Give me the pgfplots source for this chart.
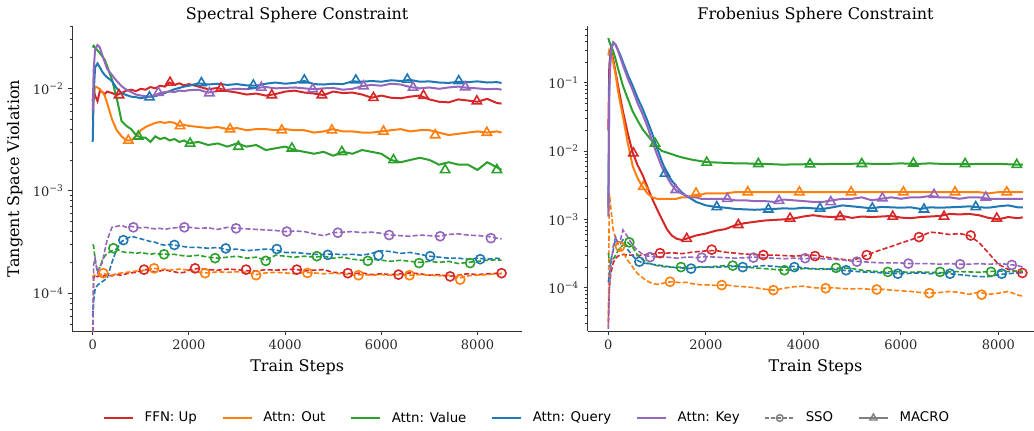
\documentclass[border=0pt]{standalone}
\usepackage{fontspec}
\setmainfont{DejaVu Serif}
\newfontfamily\legfont{DejaVu Sans}
\usepackage{pgfplots}
\usepackage{pgfplotstable}
\pgfplotsset{compat=1.18}

\definecolor{cR}{HTML}{D62728}
\definecolor{cO}{HTML}{FF7F0E}
\definecolor{cG}{HTML}{2CA02C}
\definecolor{cB}{HTML}{1F77B4}
\definecolor{cP}{HTML}{9467BD}
\definecolor{cGray}{HTML}{7F7F7F}
\definecolor{spine}{HTML}{333333}

% x  rM oM gM bM pM (MACRO)  rS oS gS bS pS (SSO)
\pgfplotstableread{
x rM oM gM bM pM rS oS gS bS pS
0 0.0075 0.0050 0.025 0.0030 0.0060 3e-5 1.4e-4 3.0e-4 6e-5 3e-5
20 0.0098 0.0085 0.026 0.0090 0.0150 1.4e-4 1.5e-4 2.9e-4 8.5e-5 1.9e-4
50 0.0085 0.0104 0.025 0.0160 0.0240 1.5e-4 1.5e-4 2.1e-4 1.1e-4 2.2e-4
100 0.0075 0.0102 0.0235 0.0175 0.0265 1.45e-4 1.5e-4 1.6e-4 1.2e-4 1.6e-4
150 0.0095 0.0098 0.022 0.0160 0.0250 1.5e-4 1.55e-4 1.8e-4 1.25e-4 1.8e-4
200 0.0092 0.0092 0.0205 0.0145 0.0210 1.45e-4 1.5e-4 2.1e-4 1.3e-4 2.0e-4
250 0.0088 0.0085 0.019 0.0135 0.0180 1.5e-4 1.55e-4 2.3e-4 1.35e-4 2.6e-4
300 0.0093 0.0072 0.0165 0.0128 0.0155 1.5e-4 1.52e-4 2.45e-4 1.4e-4 3.3e-4
400 0.0090 0.0050 0.0122 0.0118 0.0135 1.48e-4 1.5e-4 2.6e-4 2.0e-4 4.4e-4
500 0.0086 0.0039 0.0080 0.0100 0.0118 1.52e-4 1.55e-4 2.7e-4 2.7e-4 4.5e-4
600 0.0090 0.0034 0.0048 0.0090 0.0105 1.5e-4 1.58e-4 2.55e-4 3.2e-4 4.6e-4
700 0.0095 0.0031 0.0043 0.0086 0.0097 1.55e-4 1.6e-4 2.5e-4 3.4e-4 4.4e-4
800 0.0097 0.0031 0.0040 0.0083 0.0092 1.58e-4 1.62e-4 2.5e-4 3.6e-4 4.5e-4
900 0.0094 0.0034 0.0035 0.0082 0.0087 1.6e-4 1.65e-4 2.45e-4 3.5e-4 4.4e-4
1000 0.0099 0.0039 0.0033 0.0080 0.0085 1.65e-4 1.63e-4 2.5e-4 3.4e-4 4.35e-4
1100 0.0097 0.0042 0.0033 0.0082 0.0084 1.7e-4 1.7e-4 2.45e-4 3.3e-4 4.4e-4
1200 0.0103 0.0044 0.0030 0.0083 0.0083 1.68e-4 1.72e-4 2.4e-4 3.2e-4 4.3e-4
1300 0.0100 0.0046 0.0034 0.0084 0.0086 1.6e-4 1.75e-4 2.45e-4 3.15e-4 4.25e-4
1400 0.0106 0.0047 0.0032 0.0087 0.0090 1.65e-4 1.7e-4 2.4e-4 3.0e-4 4.3e-4
1500 0.0104 0.0046 0.0033 0.0090 0.0092 1.7e-4 1.72e-4 2.42e-4 2.95e-4 4.2e-4
1600 0.0114 0.0047 0.0031 0.0094 0.0093 1.65e-4 1.68e-4 2.38e-4 3.0e-4 4.3e-4
1700 0.0108 0.0046 0.0032 0.0098 0.0092 1.62e-4 1.7e-4 2.4e-4 2.95e-4 4.35e-4
1800 0.0112 0.0043 0.0030 0.0101 0.0095 1.58e-4 1.72e-4 2.35e-4 2.9e-4 4.4e-4
1900 0.0107 0.0044 0.0031 0.0104 0.0094 1.6e-4 1.7e-4 2.32e-4 2.85e-4 4.45e-4
2000 0.0110 0.0043 0.0029 0.0106 0.0096 1.68e-4 1.68e-4 2.3e-4 2.8e-4 4.4e-4
2200 0.0104 0.0042 0.0030 0.0112 0.0097 1.75e-4 1.6e-4 2.35e-4 2.8e-4 4.3e-4
2400 0.0098 0.0041 0.0028 0.0109 0.0091 1.7e-4 1.58e-4 2.25e-4 2.75e-4 4.35e-4
2600 0.0101 0.0042 0.0029 0.0111 0.0094 1.68e-4 1.62e-4 2.2e-4 2.8e-4 4.2e-4
2800 0.0094 0.0040 0.0027 0.0108 0.0097 1.72e-4 1.6e-4 2.25e-4 2.65e-4 4.4e-4
3000 0.0091 0.0041 0.0029 0.0110 0.0099 1.7e-4 1.62e-4 2.3e-4 2.7e-4 4.3e-4
3200 0.0087 0.0039 0.0027 0.0107 0.0098 1.66e-4 1.6e-4 2.2e-4 2.6e-4 4.25e-4
3400 0.0089 0.0040 0.0028 0.0106 0.0101 1.65e-4 1.52e-4 2.25e-4 2.65e-4 4.2e-4
3600 0.0085 0.0040 0.0025 0.0111 0.0103 1.7e-4 1.58e-4 2.1e-4 2.7e-4 4.15e-4
3800 0.0088 0.0039 0.0026 0.0114 0.0100 1.68e-4 1.6e-4 2.35e-4 2.65e-4 4.1e-4
4000 0.0093 0.0040 0.0027 0.0111 0.0101 1.7e-4 1.58e-4 2.3e-4 2.5e-4 4.0e-4
4200 0.0095 0.0039 0.0025 0.0113 0.0102 1.72e-4 1.55e-4 2.25e-4 2.5e-4 4.05e-4
4400 0.0091 0.0039 0.0024 0.0118 0.0100 1.65e-4 1.6e-4 2.3e-4 2.45e-4 4.0e-4
4600 0.0089 0.0037 0.0023 0.0110 0.0098 1.68e-4 1.58e-4 2.25e-4 2.4e-4 3.8e-4
4800 0.0086 0.0038 0.0024 0.0109 0.0100 1.7e-4 1.55e-4 2.3e-4 2.4e-4 3.65e-4
5000 0.0093 0.0040 0.0022 0.0111 0.0101 1.6e-4 1.57e-4 2.2e-4 2.42e-4 3.9e-4
5200 0.0090 0.0038 0.0024 0.0110 0.0097 1.58e-4 1.55e-4 2.25e-4 2.38e-4 3.95e-4
5400 0.0091 0.0038 0.0023 0.0117 0.0099 1.55e-4 1.5e-4 2.15e-4 2.4e-4 4.0e-4
5600 0.0087 0.0037 0.0025 0.0116 0.0105 1.58e-4 1.52e-4 2.1e-4 2.35e-4 3.9e-4
5800 0.0081 0.0037 0.0024 0.0118 0.0108 1.52e-4 1.5e-4 2.15e-4 2.45e-4 3.95e-4
6000 0.0085 0.0038 0.0023 0.0116 0.0106 1.55e-4 1.52e-4 2.1e-4 2.6e-4 3.85e-4
6200 0.0081 0.0039 0.0020 0.0120 0.0111 1.52e-4 1.5e-4 2.05e-4 2.55e-4 3.7e-4
6400 0.0080 0.0040 0.0019 0.0118 0.0109 1.55e-4 1.52e-4 2.1e-4 2.45e-4 3.65e-4
6600 0.0083 0.0038 0.0020 0.0121 0.0103 1.58e-4 1.5e-4 2.05e-4 2.5e-4 3.6e-4
6800 0.0085 0.0039 0.0021 0.0116 0.0100 1.55e-4 1.52e-4 2.0e-4 2.4e-4 3.7e-4
7000 0.0078 0.0039 0.0020 0.0117 0.0102 1.5e-4 1.5e-4 2.05e-4 2.3e-4 3.65e-4
7200 0.0074 0.0037 0.0018 0.0114 0.0099 1.52e-4 1.48e-4 2.0e-4 2.25e-4 3.6e-4
7400 0.0073 0.0035 0.0019 0.0113 0.0102 1.46e-4 1.5e-4 2.05e-4 2.2e-4 3.75e-4
7600 0.0078 0.0036 0.0018 0.0116 0.0104 1.5e-4 1.4e-4 1.95e-4 2.2e-4 3.8e-4
7800 0.0076 0.0037 0.0018 0.0115 0.0101 1.55e-4 1.48e-4 2.0e-4 2.15e-4 3.7e-4
8000 0.0074 0.0038 0.0016 0.0117 0.0100 1.52e-4 1.5e-4 2.05e-4 2.2e-4 3.65e-4
8200 0.0079 0.0037 0.0019 0.0114 0.0098 1.55e-4 1.52e-4 2.1e-4 2.15e-4 3.6e-4
8400 0.0072 0.0038 0.0017 0.0115 0.0099 1.56e-4 1.55e-4 2.12e-4 2.2e-4 3.45e-4
8500 0.0071 0.0037 0.0016 0.0113 0.0097 1.57e-4 1.55e-4 2.1e-4 2.15e-4 3.4e-4
}\specdata

\pgfplotstableread{
x rM oM gM bM pM rS oS gS bS pS
0 0.020 0.25 0.45 0.0015 0.0011 3e-5 2.5e-5 3.2e-4 1.2e-4 2.5e-5
20 0.18 0.30 0.40 0.10 0.08 1.0e-4 2.4e-3 2.5e-4 1.5e-4 9e-5
50 0.30 0.28 0.35 0.30 0.28 1.6e-4 1.5e-3 2.3e-4 2.5e-4 2.0e-4
100 0.22 0.20 0.29 0.385 0.39 2.3e-4 7e-4 2.6e-4 3.5e-4 4.0e-4
150 0.14 0.13 0.22 0.36 0.36 2.7e-4 5.2e-4 3.0e-4 5.2e-4 5.5e-4
200 0.090 0.075 0.16 0.30 0.29 2.9e-4 4.3e-4 3.5e-4 4.6e-4 4.5e-4
250 0.058 0.048 0.12 0.25 0.23 3.0e-4 3.8e-4 3.9e-4 4.4e-4 5.0e-4
300 0.038 0.032 0.090 0.20 0.18 3.05e-4 3.3e-4 4.2e-4 5.0e-4 7.0e-4
400 0.018 0.013 0.058 0.13 0.115 3.0e-4 2.5e-4 4.6e-4 3.6e-4 5.5e-4
500 0.0095 0.0060 0.038 0.090 0.078 3.0e-4 2.0e-4 3.9e-4 2.9e-4 4.2e-4
600 0.0062 0.0040 0.028 0.060 0.050 2.95e-4 1.6e-4 3.0e-4 2.5e-4 3.5e-4
700 0.0045 0.0030 0.021 0.042 0.035 3.0e-4 1.4e-4 2.6e-4 2.3e-4 3.1e-4
800 0.0030 0.0024 0.017 0.028 0.023 3.05e-4 1.25e-4 2.3e-4 2.25e-4 2.9e-4
900 0.0020 0.0021 0.014 0.018 0.014 3.1e-4 1.15e-4 2.2e-4 2.2e-4 2.85e-4
1000 0.0014 0.0020 0.0115 0.011 0.0088 3.2e-4 1.12e-4 2.1e-4 2.15e-4 2.8e-4
1100 0.0010 0.0020 0.0100 0.0070 0.0058 3.25e-4 1.15e-4 2.05e-4 2.1e-4 2.85e-4
1200 0.00072 0.0020 0.0095 0.0047 0.0042 3.2e-4 1.2e-4 2.0e-4 2.05e-4 2.8e-4
1300 0.00058 0.0020 0.0090 0.0037 0.0032 3.25e-4 1.22e-4 2.0e-4 2.0e-4 2.75e-4
1400 0.00052 0.0020 0.0085 0.0030 0.0026 3.2e-4 1.2e-4 1.98e-4 1.95e-4 2.7e-4
1500 0.00050 0.0021 0.0081 0.0025 0.0024 3.15e-4 1.18e-4 2.0e-4 1.95e-4 2.75e-4
1600 0.00052 0.0021 0.0078 0.0022 0.0022 3.2e-4 1.2e-4 2.0e-4 1.9e-4 2.8e-4
1700 0.00055 0.0022 0.0075 0.0020 0.0021 3.3e-4 1.15e-4 1.95e-4 1.92e-4 2.8e-4
1800 0.00058 0.0023 0.0073 0.0018 0.0021 3.35e-4 1.12e-4 2.0e-4 1.98e-4 2.75e-4
1900 0.00060 0.0023 0.0071 0.0017 0.0020 3.4e-4 1.1e-4 2.02e-4 2.0e-4 2.8e-4
2000 0.00062 0.0024 0.0069 0.0016 0.0020 3.45e-4 1.1e-4 2.0e-4 2.0e-4 2.85e-4
2200 0.00068 0.0024 0.0068 0.00152 0.0020 3.5e-4 1.08e-4 2.05e-4 1.98e-4 2.8e-4
2400 0.00072 0.0024 0.0067 0.00148 0.0020 3.3e-4 1.1e-4 2.1e-4 2.02e-4 2.75e-4
2600 0.00082 0.0025 0.0066 0.00142 0.0019 3.2e-4 1.05e-4 2.1e-4 2.05e-4 2.7e-4
2800 0.00088 0.0025 0.0066 0.00140 0.0019 3.1e-4 1.03e-4 2.0e-4 2.0e-4 2.75e-4
3000 0.00092 0.0025 0.0065 0.00138 0.00185 3.05e-4 1.0e-4 1.95e-4 2.05e-4 2.8e-4
3200 0.00096 0.0025 0.0065 0.00140 0.00185 3.0e-4 9.5e-5 1.9e-4 2.1e-4 2.75e-4
3400 0.00098 0.0025 0.0064 0.00142 0.0018 3.0e-4 9.2e-5 1.85e-4 2.05e-4 2.7e-4
3600 0.00100 0.0025 0.0063 0.00145 0.00195 2.95e-4 9.8e-5 1.8e-4 2.0e-4 2.65e-4
3800 0.00103 0.0025 0.0064 0.00143 0.0019 2.9e-4 1.03e-4 1.85e-4 2.05e-4 2.7e-4
4000 0.00110 0.0025 0.0064 0.00148 0.00185 2.95e-4 1.05e-4 1.9e-4 1.95e-4 2.65e-4
4200 0.00115 0.0025 0.0065 0.00145 0.0018 3.0e-4 1.0e-4 1.88e-4 1.9e-4 2.7e-4
4400 0.00110 0.0025 0.0064 0.00142 0.0018 2.85e-4 9.8e-5 1.85e-4 1.9e-4 2.65e-4
4600 0.00108 0.0025 0.0065 0.00150 0.0019 2.7e-4 1.0e-4 1.9e-4 1.85e-4 2.6e-4
4800 0.00112 0.0025 0.0065 0.00160 0.0020 2.6e-4 9.7e-5 1.95e-4 1.8e-4 2.55e-4
5000 0.00105 0.0025 0.0065 0.00155 0.0020 2.5e-4 9.6e-5 1.9e-4 1.75e-4 2.45e-4
5200 0.00110 0.0025 0.0066 0.00150 0.0021 2.8e-4 9.7e-5 1.8e-4 1.7e-4 2.4e-4
5400 0.00108 0.0025 0.0065 0.00145 0.0019 3.2e-4 9.4e-5 1.75e-4 1.68e-4 2.35e-4
5600 0.00110 0.0025 0.0065 0.00152 0.0020 3.6e-4 9.5e-5 1.7e-4 1.65e-4 2.3e-4
5800 0.00112 0.0025 0.0065 0.00150 0.0021 4.0e-4 9.2e-5 1.72e-4 1.62e-4 2.3e-4
6000 0.00106 0.0025 0.0066 0.00148 0.0020 4.5e-4 9.0e-5 1.7e-4 1.6e-4 2.3e-4
6200 0.00104 0.0025 0.0065 0.00150 0.0021 5.0e-4 8.8e-5 1.68e-4 1.62e-4 2.25e-4
6400 0.00108 0.0025 0.0065 0.00142 0.0021 5.6e-4 8.5e-5 1.7e-4 1.65e-4 2.25e-4
6600 0.00110 0.0025 0.0066 0.00150 0.0022 6.5e-4 8.3e-5 1.68e-4 1.6e-4 2.25e-4
6800 0.00112 0.0025 0.0065 0.00148 0.0021 6.3e-4 8.5e-5 1.65e-4 1.62e-4 2.2e-4
7000 0.00120 0.0025 0.0065 0.00150 0.0021 6.0e-4 8.8e-5 1.7e-4 1.6e-4 2.25e-4
7200 0.00118 0.0025 0.0065 0.00152 0.0020 6.2e-4 8.5e-5 1.72e-4 1.55e-4 2.2e-4
7400 0.00120 0.0025 0.0064 0.00155 0.0021 5.8e-4 8.0e-5 1.7e-4 1.5e-4 2.2e-4
7600 0.00115 0.0025 0.0065 0.00150 0.0021 4.6e-4 8.6e-5 1.68e-4 1.45e-4 2.25e-4
7800 0.00105 0.0024 0.0065 0.00148 0.0020 3.2e-4 8.0e-5 1.72e-4 1.45e-4 2.2e-4
8000 0.00100 0.0025 0.0065 0.00155 0.0020 2.2e-4 8.3e-5 1.75e-4 1.55e-4 2.25e-4
8200 0.00108 0.0025 0.0064 0.00160 0.0020 1.85e-4 8.8e-5 1.72e-4 1.6e-4 2.2e-4
8400 0.00104 0.0025 0.0063 0.00150 0.0020 1.7e-4 7.8e-5 1.75e-4 1.65e-4 2.1e-4
8500 0.00107 0.0025 0.0063 0.00150 0.0020 1.65e-4 7.5e-5 1.75e-4 1.65e-4 2.0e-4
}\frobdata

\pgfplotsset{
  mac/.style={solid, line width=1.5pt, no markers},
  sso/.style={line width=1.2pt, dash pattern=on 3.8pt off 1.7pt, no markers},
  tri/.style={only marks, mark=triangle, mark size=4pt, mark options={solid, fill=white, line width=1.2pt}},
  cir/.style={only marks, mark=o, mark size=3.4pt, mark options={solid, fill=white, line width=1.2pt}},
  panel/.style={
    scale only axis,
    xmin=-425, xmax=8925,
    axis x line*=bottom, axis y line*=left,
    axis line style={-, spine, line width=0.75pt},
    tick align=outside,
    major tick length=3pt, minor tick length=1.8pt,
    every tick/.style={spine, line width=0.7pt},
    every minor tick/.style={spine, line width=0.5pt},
    xtick={0,2000,4000,6000,8000},
    xticklabels={0,2000,4000,6000,8000},
    tick label style={font=\fontsize{9.75pt}{11pt}\selectfont, text=spine!80!black},
    /pgf/number format/assume math mode=true,
    title style={font=\fontsize{12pt}{14pt}\selectfont, at={(axis description cs:0.5,1)}, anchor=center, yshift=2.2pt},
    xlabel style={font=\fontsize{12pt}{14pt}\selectfont, at={(axis description cs:0.5,0)}, anchor=center, yshift=-27pt},
    ylabel style={font=\fontsize{12pt}{14pt}\selectfont, at={(axis description cs:0,0.5)}, anchor=center, yshift=43pt},
    clip=true,
  },
}

\begin{document}
\begin{tikzpicture}
\useasboundingbox (0,0) rectangle (775.5pt,322.5pt);

% ---------------- Left panel ----------------
\begin{axis}[ymode=log, panel,
  at={(54.2pt,74.25pt)}, anchor=south west,
  width=337.3pt, height=228.75pt,
  ymin=4.28e-5, ymax=0.0406,
  ytick={1e-4,1e-3,1e-2},
  yticklabels={10\textsuperscript{−4},10\textsuperscript{−3},10\textsuperscript{−2}},
  minor ytick={5e-5,6e-5,7e-5,8e-5,9e-5,2e-4,3e-4,4e-4,5e-4,6e-4,7e-4,8e-4,9e-4,2e-3,3e-3,4e-3,5e-3,6e-3,7e-3,8e-3,9e-3,2e-2,3e-2,4e-2},
  title={Spectral Sphere Constraint},
  xlabel={Train Steps},
  ylabel={Tangent Space Violation},
  legend columns=7,
  legend style={at={(axis description cs:1.0111,-0.2852)}, anchor=center, draw=none, fill=none,
    font=\legfont\fontsize{10pt}{12pt}\selectfont,
    /tikz/every even column/.append style={column sep=17pt},
    /tikz/every odd column/.append style={column sep=6.5pt},
    nodes={inner sep=1.5pt}},
  legend image code/.code={\draw[mark repeat=2, mark phase=2, #1] plot coordinates {(0pt,0pt) (10.9pt,0pt) (21.8pt,0pt)};},
]
\addlegendimage{cR, line width=1.5pt}
\addlegendentry{FFN: Up}
\addlegendimage{cO, line width=1.5pt}
\addlegendentry{Attn: Out}
\addlegendimage{cG, line width=1.5pt}
\addlegendentry{Attn: Value}
\addlegendimage{cB, line width=1.5pt}
\addlegendentry{Attn: Query}
\addlegendimage{cP, line width=1.5pt}
\addlegendentry{Attn: Key}
\addlegendimage{cGray, line width=1.2pt, dash pattern=on 3pt off 1.5pt, mark=o, mark size=2.5pt, mark options={solid, fill=white, line width=1.1pt}}
\addlegendentry{SSO}
\addlegendimage{cGray, line width=1.5pt, mark=triangle, mark size=3pt, mark options={solid, fill=white, line width=1.1pt}}
\addlegendentry{MACRO}

% SSO (dashed)
\addplot[sso, cR, forget plot] table[x=x, y=rS] {\specdata};
\addplot[cir, cR, forget plot] coordinates {(1067,1.7e-4) (2128,1.75e-4) (3189,1.7e-4) (4243,1.7e-4) (5304,1.57e-4) (6357,1.52e-4) (7431,1.46e-4) (8500,1.57e-4)};
\addplot[sso, cO, forget plot] table[x=x, y=oS] {\specdata};
\addplot[cir, cO, forget plot] coordinates {(221,1.57e-4) (1275,1.75e-4) (2336,1.57e-4) (3397,1.5e-4) (4464,1.58e-4) (5525,1.5e-4) (6586,1.5e-4) (7640,1.36e-4)};
\addplot[sso, cG, forget plot] table[x=x, y=gS] {\specdata};
\addplot[cir, cG, forget plot] coordinates {(429,2.75e-4) (1483,2.4e-4) (2544,2.2e-4) (3598,2.07e-4) (4659,2.3e-4) (5720,2.07e-4) (6786,1.97e-4) (7847,1.97e-4)};
\addplot[sso, cB, forget plot] table[x=x, y=bS] {\specdata};
\addplot[cir, cB, forget plot] coordinates {(637,3.3e-4) (1698,2.96e-4) (2766,2.74e-4) (3827,2.7e-4) (4888,2.37e-4) (5941,2.34e-4) (7016,2.3e-4) (8056,2.15e-4)};
\addplot[sso, cP, forget plot] table[x=x, y=pS] {\specdata};
\addplot[cir, cP, forget plot] coordinates {(845,4.4e-4) (1906,4.4e-4) (2981,4.3e-4) (4035,4.0e-4) (5096,3.9e-4) (6163,3.7e-4) (7224,3.6e-4) (8278,3.45e-4)};

% MACRO (solid)
\addplot[mac, cR, forget plot] table[x=x, y=rM] {\specdata};
\addplot[tri, cR, forget plot] coordinates {(547,0.0086) (1608,0.0114) (2667,0.0100) (3723,0.0086) (4763,0.0086) (5837,0.0081) (6877,0.0085) (7986,0.0075)};
\addplot[mac, cO, forget plot] table[x=x, y=oM] {\specdata};
\addplot[tri, cO, forget plot] coordinates {(741,0.0031) (1816,0.0043) (2856,0.0040) (3931,0.0039) (4971,0.0039) (6045,0.0038) (7120,0.0035) (8194,0.0037)};
\addplot[mac, cG, forget plot] table[x=x, y=gM] {\specdata};
\addplot[tri, cG, forget plot] coordinates {(949,0.0034) (2024,0.0029) (3029,0.0027) (4140,0.0026) (5180,0.0024) (6253,0.0020) (7327,0.0016) (8402,0.0016)};
\addplot[mac, cB, forget plot] table[x=x, y=bM] {\specdata};
\addplot[tri, cB, forget plot] coordinates {(1180,0.0082) (2260,0.0113) (3340,0.0107) (4400,0.0120) (5470,0.0120) (6540,0.0122) (7610,0.0118)};
\addplot[mac, cP, forget plot] table[x=x, y=pM] {\specdata};
\addplot[tri, cP, forget plot] coordinates {(1365,0.0091) (2425,0.0090) (3504,0.0102) (4575,0.0098) (5630,0.0105) (6660,0.0102) (7745,0.0103)};
\end{axis}

% ---------------- Right panel ----------------
\begin{axis}[ymode=log, panel,
  at={(440.7pt,74.25pt)}, anchor=south west,
  width=341.9pt, height=228.75pt,
  ymin=2.32e-5, ymax=0.676,
  ytick={1e-4,1e-3,1e-2,1e-1},
  yticklabels={10\textsuperscript{−4},10\textsuperscript{−3},10\textsuperscript{−2},10\textsuperscript{−1}},
  minor ytick={3e-5,4e-5,5e-5,6e-5,7e-5,8e-5,9e-5,2e-4,3e-4,4e-4,5e-4,6e-4,7e-4,8e-4,9e-4,2e-3,3e-3,4e-3,5e-3,6e-3,7e-3,8e-3,9e-3,2e-2,3e-2,4e-2,5e-2,6e-2,7e-2,8e-2,9e-2,2e-1,3e-1,4e-1,5e-1,6e-1},
  title={Frobenius Sphere Constraint},
  xlabel={Train Steps},
]
% SSO (dashed)
\addplot[sso, cR] table[x=x, y=rS] {\frobdata};
\addplot[cir, cR] coordinates {(1060,3.2e-4) (2121,3.6e-4) (3180,3.0e-4) (4240,2.9e-4) (5300,3.0e-4) (6372,5.5e-4) (7432,5.8e-4) (8492,1.64e-4)};
\addplot[sso, cO] table[x=x, y=oS] {\frobdata};
\addplot[cir, cO] coordinates {(240,4.0e-4) (1266,1.22e-4) (2326,1.09e-4) (3385,9.2e-5) (4459,9.8e-5) (5505,9.4e-5) (6585,8.3e-5) (7657,7.9e-5)};
\addplot[sso, cG] table[x=x, y=gS] {\frobdata};
\addplot[cir, cG] coordinates {(431,4.6e-4) (1491,2.0e-4) (2552,2.1e-4) (3611,1.8e-4) (4671,1.95e-4) (5732,1.7e-4) (6804,1.7e-4) (7851,1.7e-4)};
\addplot[sso, cB] table[x=x, y=bS] {\frobdata};
\addplot[cir, cB] coordinates {(636,2.4e-4) (1697,1.9e-4) (2757,2.0e-4) (3816,2.0e-4) (4877,1.8e-4) (5937,1.6e-4) (7009,1.6e-4) (8069,1.6e-4)};
\addplot[sso, cP] table[x=x, y=pS] {\frobdata};
\addplot[cir, cP] coordinates {(855,2.8e-4) (1916,2.75e-4) (2976,2.75e-4) (4037,2.7e-4) (5097,2.4e-4) (6155,2.25e-4) (7215,2.2e-4) (8276,2.15e-4)};

% MACRO (solid)
\addplot[mac, cR] table[x=x, y=rM] {\frobdata};
\addplot[tri, cR] coordinates {(513,0.0093) (1608,0.00052) (2667,0.00083) (3727,0.00103) (4753,0.00109) (5834,0.0011) (6886,0.0011) (7967,0.00103)};
\addplot[mac, cO] table[x=x, y=oM] {\frobdata};
\addplot[tri, cO] coordinates {(718,0.0030) (1799,0.0024) (2860,0.0025) (3919,0.0025) (4980,0.0025) (6052,0.0025) (7111,0.0025) (8172,0.0025)};
\addplot[mac, cG] table[x=x, y=gM] {\frobdata};
\addplot[tri, cG] coordinates {(958,0.0129) (2018,0.0068) (3077,0.0065) (4137,0.0064) (5198,0.0065) (6257,0.0066) (7317,0.0065) (8377,0.0063)};
\addplot[mac, cB] table[x=x, y=bM] {\frobdata};
\addplot[tri, cB] coordinates {(1163,0.0047) (2224,0.00152) (3282,0.0014) (4342,0.00144) (5415,0.00145) (6475,0.0014) (7536,0.00152)};
\addplot[mac, cP] table[x=x, y=pM] {\frobdata};
\addplot[tri, cP] coordinates {(1383,0.0027) (2441,0.0020) (3502,0.00187) (4562,0.0018) (5621,0.00204) (6680,0.0023) (7741,0.0021)};
\end{axis}
\end{tikzpicture}
\end{document}
